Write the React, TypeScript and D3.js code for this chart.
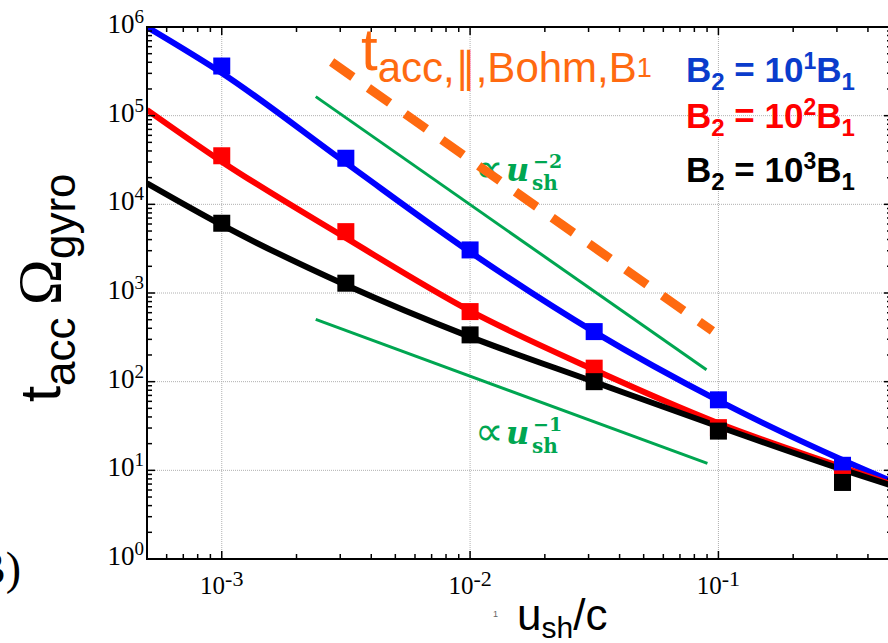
import React from 'react';
import * as d3 from 'd3';

const W = 888;
const H = 643;

// measured data points (squares)
const pointX = [1e-3, 3.16e-3, 1e-2, 3.16e-2, 0.1, 0.316];
const blueVals = [3.63e5, 3.31e4, 3.06e3, 367, 62.4, 11.4];
const redVals = [3.53e4, 4.92e3, 617, 142, 30.3, 8.0];
const blackVals = [6.12e3, 1.29e3, 337, 100, 27.7, 7.3];

// model curves
const lineX = [5e-4, 1e-3, 3.16e-3, 1e-2, 3.16e-2, 0.1, 0.316, 0.5];
const blueLine = [1.0e6, 3.03e5, 2.93e4, 2.9e3, 364, 61, 13.1, 7.5];
const redLine = [1.16e5, 3.03e4, 4.18e3, 628, 136, 33.9, 10.8, 6.9];
const blackLine = [1.73e4, 5.86e3, 1.23e3, 320, 99.5, 31.2, 10.2, 6.7];

// reference lines
const bohmX = [2.77e-3, 0.0946];
const bohmY = [4.03e5, 374];
const slope2X = [2.39e-3, 0.0895];
const slope2Y = [1.64e5, 136];
const slope1X = [2.39e-3, 0.0903];
const slope1Y = [503, 12.0];

// tick labels
const xTickValues = [1e-3, 1e-2, 1e-1];
const xTickExps = ['-3', '-2', '-1'];
const yTickValues = [1, 10, 100, 1e3, 1e4, 1e5, 1e6];
const yTickExps = ['0', '1', '2', '3', '4', '5', '6'];

const legendLabels = ['1', '2', '3'];

const BLUE = '#0000ff';
const RED = '#ff0000';
const BLACK = '#000000';
const GREEN = '#00a651';
const ORANGE = '#ff6a10';

const L = 147, R = 892, T = 27, B = 559;

export default function App() {
  const x = d3.scaleLog().domain([5e-4, 0.5]).range([L, R]);
  const y = d3.scaleLog().domain([1, 1e6]).range([B, T]);

  const line = d3
    .line<[number, number]>()
    .x((d) => x(d[0]))
    .y((d) => y(d[1]))
    .curve(d3.curveMonotoneX);
  const straight = d3
    .line<[number, number]>()
    .x((d) => x(d[0]))
    .y((d) => y(d[1]));

  const zip = (a: number[], b: number[]) => a.map((v, i) => [v, b[i]] as [number, number]);

  const xt = x.ticks();
  const yt = y.ticks();
  const isMajor = (v: number) => Math.abs(Math.log10(v) - Math.round(Math.log10(v))) < 1e-6;

  const series = [
    { color: BLUE, line: blueLine, vals: blueVals },
    { color: RED, line: redLine, vals: redVals },
    { color: BLACK, line: blackLine, vals: blackVals },
  ];
  const sq = 17;

  const legendColors = ['#0a3ccc', RED, BLACK];
  const legendY = [82, 128, 182];

  return (
    <svg
      width={W}
      height={H}
      style={{ position: 'absolute', left: 0, top: 0, background: '#fff' }}
      fontFamily="'Liberation Sans', Arial, sans-serif"
    >
      <defs>
        <clipPath id="plot">
          <rect x={L} y={T} width={R - L} height={B - T} />
        </clipPath>
      </defs>
      <rect x={0} y={0} width={W} height={H} fill="#fff" />

      {/* grid */}
      {xTickValues.map((v, i) => (
        <line key={'gx' + i} x1={x(v)} x2={x(v)} y1={T} y2={B} stroke="#b0b0b0" strokeWidth={1} strokeDasharray="1,1" />
      ))}
      {yTickValues.slice(1, -1).map((v, i) => (
        <line key={'gy' + i} x1={L} x2={R} y1={y(v)} y2={y(v)} stroke="#b0b0b0" strokeWidth={1} strokeDasharray="1,1" />
      ))}

      {/* green guide lines */}
      <path d={straight(zip(slope2X, slope2Y)) || ''} stroke={GREEN} strokeWidth={3} fill="none" />
      <path d={straight(zip(slope1X, slope1Y)) || ''} stroke={GREEN} strokeWidth={3} fill="none" />

      {/* green annotations */}
      <g fill={GREEN} fontFamily="'DejaVu Serif', serif" fontWeight="bold">
        <text x={475} y={182} fontSize={40} fontFamily="'DejaVu Sans', sans-serif" fontWeight="normal">∝</text>
        <text x={506} y={181} fontSize={32} fontStyle="italic">u</text>
        <text x={532} y={190} fontSize={20}>sh</text>
        <text x={533} y={168} fontSize={19}>−2</text>
        <text x={475} y={445} fontSize={40} fontFamily="'DejaVu Sans', sans-serif" fontWeight="normal">∝</text>
        <text x={506} y={444} fontSize={32} fontStyle="italic">u</text>
        <text x={532} y={453} fontSize={20}>sh</text>
        <text x={533} y={431} fontSize={19}>−1</text>
      </g>

      {/* Bohm dashed line */}
      <path
        d={straight(zip(bohmX, bohmY)) || ''}
        stroke={ORANGE}
        strokeWidth={9}
        strokeDasharray="26,19"
        fill="none"
      />

      {/* series */}
      <g clipPath="url(#plot)">
        {series.map((s, si) => (
          <path
            key={'l' + si}
            d={line(zip(lineX, s.line)) || ''}
            stroke={s.color}
            strokeWidth={6}
            fill="none"
            strokeLinejoin="round"
          />
        ))}
        {series.map((s, si) => (
          <g key={'p' + si}>
            {pointX.map((px, i) => (
              <rect
                key={i}
                x={x(px) - sq / 2}
                y={y(s.vals[i]) - sq / 2}
                width={sq}
                height={sq}
                fill={s.color}
              />
            ))}
          </g>
        ))}
      </g>

      {/* frame */}
      <rect x={L} y={T} width={R - L} height={B - T} fill="none" stroke="#000" strokeWidth={2} />

      {/* ticks */}
      {xt.map((v, i) => {
        const len = isMajor(v) ? 8 : 5;
        return (
          <g key={'xt' + i}>
            <line x1={x(v)} x2={x(v)} y1={B} y2={B - len} stroke="#000" strokeWidth={1.5} />
            <line x1={x(v)} x2={x(v)} y1={T} y2={T + len} stroke="#000" strokeWidth={1.5} />
          </g>
        );
      })}
      {yt.map((v, i) => {
        const len = isMajor(v) ? 8 : 5;
        return (
          <g key={'yt' + i}>
            <line x1={L} x2={L + len} y1={y(v)} y2={y(v)} stroke="#000" strokeWidth={1.5} />
            <line x1={R} x2={R - len} y1={y(v)} y2={y(v)} stroke="#000" strokeWidth={1.5} />
          </g>
        );
      })}

      {/* tick labels */}
      <g fontFamily="'Liberation Serif', 'Times New Roman', serif" fill="#000">
        {xTickValues.map((v, i) => (
          <text key={'xl' + i} x={x(v)} y={594} textAnchor="middle" fontSize={25}>
            10
            <tspan fontSize={22} dy={-8}>{xTickExps[i]}</tspan>
          </text>
        ))}
        {yTickValues.map((v, i) => (
          <text key={'yl' + i} x={144} y={y(v) + 6} textAnchor="end" fontSize={27}>
            10
            <tspan fontSize={19} dy={-10}>{yTickExps[i]}</tspan>
          </text>
        ))}
      </g>

      {/* legend */}
      <g fontWeight="bold" fontFamily="'Liberation Sans', Arial, sans-serif">
        {legendLabels.map((lab, i) => (
          <text key={'lg' + i} x={686} y={legendY[i]} fontSize={35} fill={legendColors[i]}>
            B<tspan fontSize={24} dy={8}>2</tspan>
            <tspan dy={-8}> = 10</tspan>
            <tspan fontSize={23} dy={-13}>{lab}</tspan>
            <tspan dy={13}>B</tspan>
            <tspan fontSize={24} dy={8}>1</tspan>
          </text>
        ))}
      </g>

      {/* Bohm label */}
      <text x={361} y={70} fontSize={60} fill={ORANGE}>
        t<tspan fontSize={42} dy={12}>acc,∥,Bohm,B</tspan>
        <tspan fontSize={27} dy={-5}>1</tspan>
      </text>

      {/* y axis label */}
      <g transform="translate(60,402) rotate(-90)">
        <text x={0} y={0} fontSize={58} fill="#000">
          t<tspan fontSize={44} dy={15}>acc</tspan>
          <tspan dy={-15} fontSize={44}> </tspan>
          <tspan fontFamily="'Liberation Serif', 'Times New Roman', serif" fontSize={62}>Ω</tspan>
          <tspan fontSize={44} dy={15}>gyro</tspan>
        </text>
      </g>

      {/* x axis label */}
      <text x={517} y={630} fontSize={44} fill="#000">
        u<tspan fontSize={30} dy={8}>sh</tspan>
        <tspan dy={-8}>/c</tspan>
      </text>
      <text x={493} y={617} fontSize={9} fill="#666">1</text>

      {/* panel label */}
      <text x={21} y={584} textAnchor="end" fontSize={46} fontFamily="'Liberation Serif', 'Times New Roman', serif" fill="#000">
        (B)
      </text>
    </svg>
  );
}
